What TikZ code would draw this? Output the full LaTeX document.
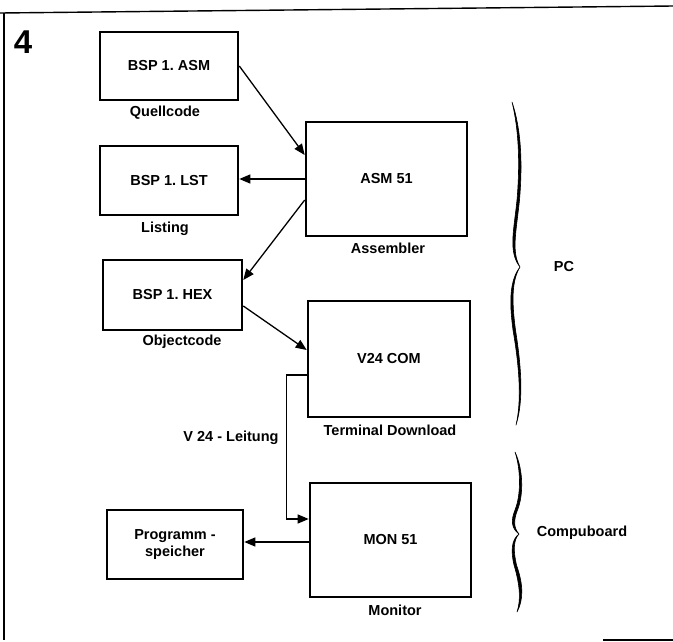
\documentclass[tikz,border=0pt]{standalone}
\usepackage{fontspec}
\setmainfont{Liberation Sans}
\usetikzlibrary{arrows.meta}
\begin{document}
\begin{tikzpicture}[x=1pt,y=-1pt,
  box/.style={draw, line width=2.6pt, rectangle, inner sep=0pt, font=\fontsize{14.5}{17}\selectfont\bfseries, align=center},
  lbl/.style={inner sep=0pt, font=\fontsize{14.5}{17}\selectfont\bfseries},
  conn/.style={line width=1.3pt, -{Triangle[length=11pt,width=9pt]}},
  brc/.style={fill=black, draw=black, line width=0.6pt, line cap=round, line join=round},
  frame/.style={line width=1.4pt}]
\useasboundingbox (0,0) rectangle (673,641);
% frame
\coordinate (ftl) at (4,13);
\coordinate (ftr) at (673,6);
\coordinate (fbl) at (4,640);
\coordinate (fb1) at (603,640);
\coordinate (fb2) at (673,640);
\draw[frame] (0,13) -- (ftr);
\draw[frame] (ftl) -- (fbl);
\draw[frame] (fb1) -- (fb2);
\node[inner sep=0pt, font=\fontsize{33}{33}\selectfont\bfseries] (num) at (23,42) {4};
% boxes
\node[box, minimum width=138, minimum height=68] (asm) at (169,66) {BSP 1.\ ASM};
\node[box, minimum width=138, minimum height=69] (lst) at (169,180.5) {BSP 1.\ LST};
\node[box, minimum width=161, minimum height=114] (asm51) at (386.5,179) {ASM 51};
\node[box, minimum width=139, minimum height=70] (hex) at (172.5,295) {BSP 1.\ HEX};
\node[box, minimum width=162, minimum height=116] (v24) at (389,359) {V24 COM};
\node[box, minimum width=161, minimum height=114] (mon) at (390.5,540) {MON 51};
\node[box, minimum width=136, minimum height=69] (prog) at (175,544.5) {Programm -\\speicher};
% labels
\node[lbl] (lq) at (165,113) {Quellcode};
\node[lbl] (ll) at (165,229) {Listing};
\node[lbl] (la) at (388,248) {Assembler};
\node[lbl] (lo) at (182,342) {Objectcode};
\node[lbl] (lt) at (390,430) {Terminal Download};
\node[lbl] (lv) at (231,438) {V 24 - Leitung};
\node[lbl] (lm) at (395,610) {Monitor};
\node[lbl] (lpc) at (564,267) {PC};
\node[lbl] (lcb) at (582,533) {Compuboard};
% connectors
\draw[conn] (asm.east) -- ([yshift=24pt]asm51.west);
\draw[conn] (asm51.west) -- (asm51.west -| lst.east);
\draw[conn] ([yshift=-21pt]asm51.west) -- ([yshift=15pt]hex.east);
\draw[conn] ([yshift=-11pt]hex.east) -- ([yshift=9pt]v24.west);
\draw[conn] ([yshift=-16pt]v24.west) -- ++(-20,0) |- ([yshift=21pt]mon.west);
\draw[conn] ([yshift=-2pt]mon.west) -- ([yshift=-2pt]mon.west -| prog.east);
% braces
\draw[brc] (512,102) .. controls (519,130) and (520,165) .. (517,200)
  .. controls (514,230) and (508,252) .. (520,267)
  .. controls (510,280) and (509,300) .. (513,330)
  .. controls (519,365) and (522,400) .. (516,425)
  .. controls (524,400) and (521,365) .. (515.5,330)
  .. controls (511.5,300) and (512,280) .. (520,267)
  .. controls (511,252) and (516.5,230) .. (519.5,200)
  .. controls (522.5,165) and (521.5,130) .. (512,102) -- cycle;
\draw[brc] (515,452) .. controls (521,470) and (521,495) .. (515,510)
  .. controls (511,520) and (511,528) .. (519,534)
  .. controls (511,540) and (511,552) .. (514,565)
  .. controls (520,585) and (521,600) .. (517,612)
  .. controls (523.5,600) and (523.5,585) .. (516.5,565)
  .. controls (513.5,552) and (513,540) .. (519,534)
  .. controls (513.5,528) and (513.5,520) .. (517.5,510)
  .. controls (523.5,495) and (523.5,470) .. (515,452) -- cycle;
\end{tikzpicture}
\end{document}
